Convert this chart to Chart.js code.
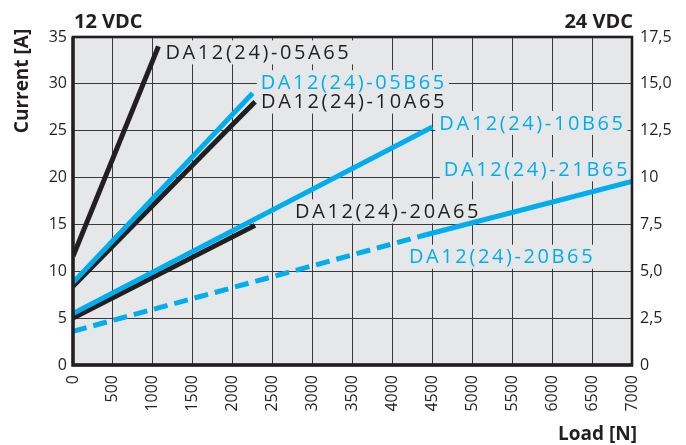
<!DOCTYPE html>
<html><head><meta charset="utf-8">
<script src="https://cdn.jsdelivr.net/npm/chart.js@4.4.1/dist/chart.umd.min.js"></script>
<style>html,body{margin:0;padding:0;background:#fff;overflow:hidden}#wrap{width:686px;height:445px;position:relative}</style>
</head><body><div id="wrap"><canvas id="c" width="686" height="445"></canvas></div>
<script>
// ---- data ----
const loadTicks = [0,500,1000,1500,2000,2500,3000,3500,4000,4500,5000,5500,6000,6500,7000];
const leftTickValues = [0,5,10,15,20,25,30,35];
const leftTickLabels = ['0','5','10','15','20','25','30','35'];
const rightTickValues = [0,2.5,5,7.5,10,12.5,15,17.5];
const rightTickLabels = ['0','2,5','5,0','7,5','10','12,5','15,0','17,5'];

const load05A65 = [0, 1070];    const current05A65 = [11.6, 34.0];
const load05B65 = [0, 2250];    const current05B65 = [8.8, 29.0];
const load10A65 = [0, 2280];    const current10A65 = [8.4, 28.1];
const load10B65 = [0, 4500];    const current10B65 = [5.5, 25.4];
const load20A65 = [0, 2280];    const current20A65 = [5.0, 14.9];
const load20B65 = [0, 4420];    const current20B65 = [3.6, 13.9];
const load21B65 = [4420, 7000]; const current21B65 = [13.9, 19.6];

const BLUE = '#00aeef', BLACK = '#231f20', PLOT_BG = '#e6e7e8';
const FONT = '"Open Sans", "DejaVu Sans", sans-serif';

function pts(xs, ys){ return xs.map((x,i)=>({x:x, y:ys[i]})); }

// label: text, colour, anchor offset from series end point (px), align
const datasets = [
  {label:'DA12(24)-05B65', data:pts(load05B65,current05B65), borderColor:BLUE, tag:{dx:8, dy:-11, align:'left'}},
  {label:'DA12(24)-10B65', data:pts(load10B65,current10B65), borderColor:BLUE, tag:{dx:7, dy:-4, align:'left'}},
  {label:'DA12(24)-21B65', data:pts(load21B65,current21B65), borderColor:BLUE, tag:{dx:-2, dy:-12, align:'right'}},
  {label:'DA12(24)-20B65', data:pts(load20B65,current20B65), borderColor:BLUE, borderDash:[14,7], tag:{dx:-17, dy:22, align:'left'}},
  {label:'DA12(24)-05A65', data:pts(load05A65,current05A65), borderColor:BLACK, tag:{dx:7, dy:6, align:'left'}},
  {label:'DA12(24)-10A65', data:pts(load10A65,current10A65), borderColor:BLACK, tag:{dx:6, dy:0, align:'left'}},
  {label:'DA12(24)-20A65', data:pts(load20A65,current20A65), borderColor:BLACK, tag:{dx:40, dy:-14, align:'left'}}
].map(d=>Object.assign({borderWidth:5, pointRadius:0, fill:false, tension:0, borderCapStyle:'butt'}, d));

function tagBox(chart, ds, ctx){
  const last = ds.data[ds.data.length-1];
  const px = chart.scales.x.getPixelForValue(last.x) + ds.tag.dx;
  const py = chart.scales.y.getPixelForValue(last.y) + ds.tag.dy;
  ctx.font = '20px ' + FONT;
  ctx.letterSpacing = '2.6px';
  const w = ctx.measureText(ds.label).width;
  const left = ds.tag.align === 'right' ? px - w : px;
  return {left, py, w};
}

const deco = {
  id:'deco',
  beforeDraw(chart){
    const {ctx, chartArea:a} = chart;
    ctx.save();
    ctx.fillStyle='#fff'; ctx.fillRect(0,0,chart.width,chart.height);
    ctx.fillStyle=PLOT_BG; ctx.fillRect(a.left,a.top,a.right-a.left,a.bottom-a.top);
    ctx.restore();
  },
  beforeDatasetsDraw(chart){
    const ctx = chart.ctx;
    chart.data.datasets.forEach(ds=>{
      ctx.save();
      const b = tagBox(chart, ds, ctx);
      ctx.fillStyle = PLOT_BG;
      ctx.fillRect(b.left-4, b.py-12, b.w+6, 24);
      ctx.restore();
    });
  },
  afterDatasetsDraw(chart){
    const ctx = chart.ctx;
    chart.data.datasets.forEach(ds=>{
      ctx.save();
      const b = tagBox(chart, ds, ctx);
      ctx.fillStyle = ds.borderColor;
      ctx.textAlign='left'; ctx.textBaseline='middle';
      ctx.fillText(ds.label, b.left, b.py+1);
      ctx.restore();
    });
  },
  afterDraw(chart){
    const {ctx, chartArea:a} = chart;
    ctx.save();
    ctx.strokeStyle = BLACK;
    ctx.lineWidth = 2.6;
    ctx.strokeRect(a.left, a.top, a.right-a.left, a.bottom-a.top);
    ctx.lineWidth = 3.4;
    ctx.beginPath(); ctx.moveTo(a.left, a.top); ctx.lineTo(a.left, a.bottom); ctx.lineTo(a.right+1, a.bottom); ctx.stroke();
    ctx.fillStyle = BLACK;
    ctx.textBaseline = 'middle';
    ctx.font = 'bold 20px ' + FONT;
    ctx.textAlign = 'left'; ctx.fillText('12 VDC', 74, 22);
    ctx.textAlign = 'right'; ctx.fillText('24 VDC', 633, 22);
    ctx.font = 'bold 19px ' + FONT;
    ctx.fillText('Load [N]', 637, 435);
    ctx.translate(23, 81); ctx.rotate(-Math.PI/2);
    ctx.textAlign = 'center'; ctx.fillText('Current [A]', 0, 0);
    ctx.restore();
  }
};

const tickFont = {family: FONT, size: 16};
new Chart(document.getElementById('c'), {
  type:'line',
  data:{datasets},
  plugins:[deco],
  options:{
    responsive:false, animation:false, devicePixelRatio:1,
    layout:{padding:{top:37, left:0, right:0, bottom:0}},
    plugins:{legend:{display:false}, tooltip:{enabled:false}},
    scales:{
      x:{type:'linear', min:0, max:7000,
        afterBuildTicks:s=>{ s.ticks = loadTicks.map(v=>({value:v})); },
        ticks:{minRotation:90, maxRotation:90, autoSkip:false, font:tickFont, color:BLACK, padding:10, callback:v=>String(v)},
        grid:{color:'#3a3a3a', lineWidth:1, drawTicks:false},
        border:{display:false},
        afterFit:s=>{ s.height = 80; }
      },
      y:{type:'linear', position:'left', min:0, max:35,
        afterBuildTicks:s=>{ s.ticks = leftTickValues.map(v=>({value:v})); },
        ticks:{font:tickFont, color:BLACK, padding:6, callback:(v,i)=>leftTickLabels[i]},
        grid:{color:'#3a3a3a', lineWidth:1, drawTicks:false},
        border:{display:false},
        afterFit:s=>{ s.width = 73; }
      },
      y2:{type:'linear', position:'right', min:0, max:17.5,
        afterBuildTicks:s=>{ s.ticks = rightTickValues.map(v=>({value:v})); },
        ticks:{font:tickFont, color:BLACK, padding:8, callback:(v,i)=>rightTickLabels[i]},
        grid:{display:false, drawTicks:false},
        border:{display:false},
        afterFit:s=>{ s.width = 54; }
      }
    }
  }
});
</script></body></html>
